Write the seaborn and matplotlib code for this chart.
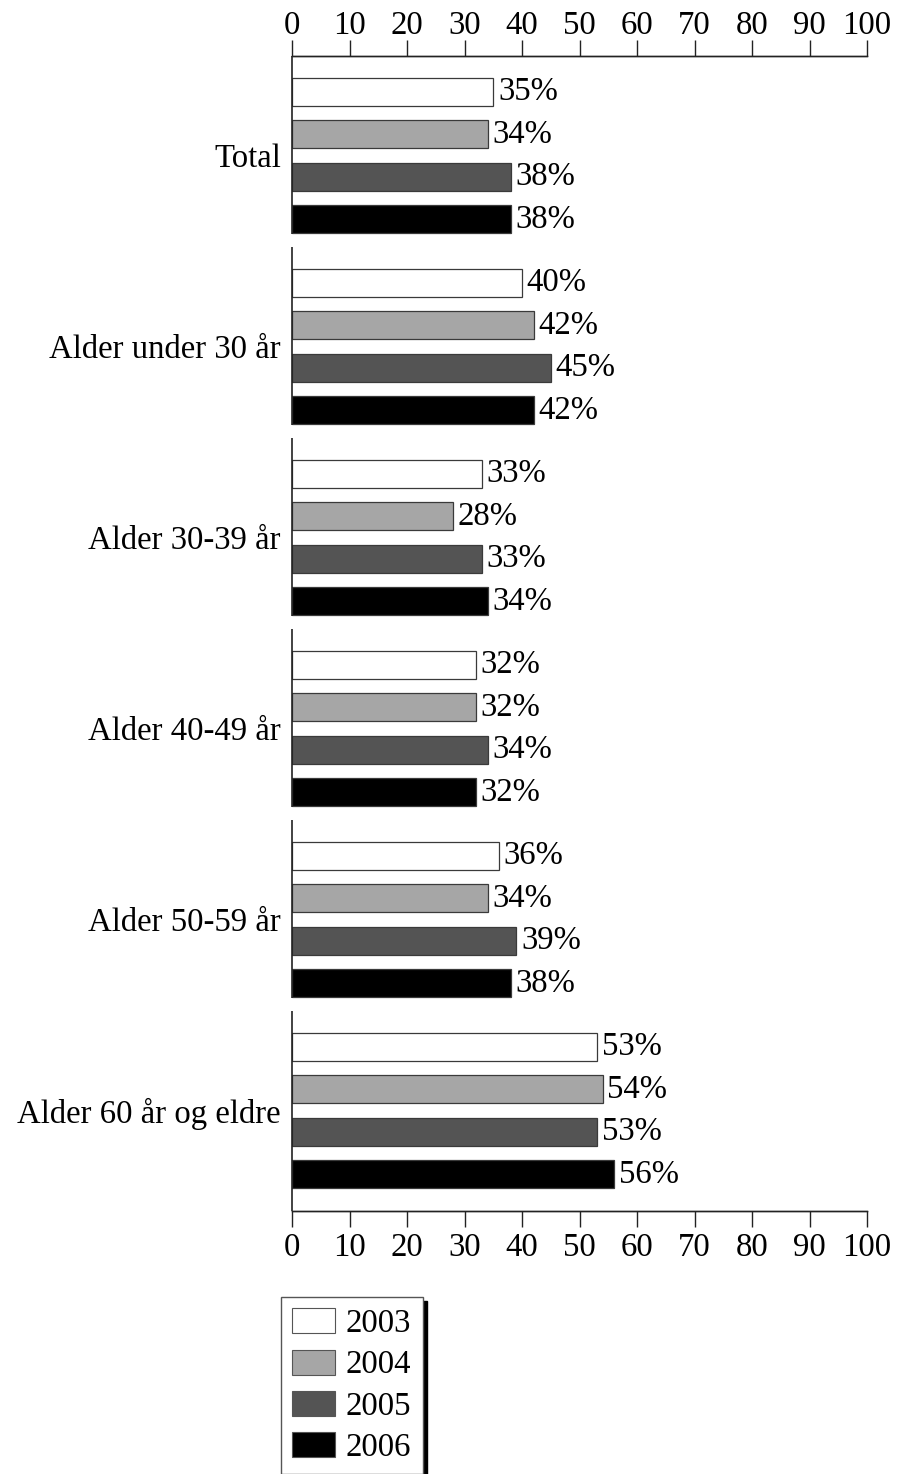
import matplotlib
matplotlib.use("Agg")
import matplotlib.pyplot as plt
import seaborn as sns
import pandas as pd
import numpy as np

# Share of respondents (%) per age group and survey year
groups = ["Total", "Alder under 30 år", "Alder 30-39 år", "Alder 40-49 år",
          "Alder 50-59 år", "Alder 60 år og eldre"]
years = ["2003", "2004", "2005", "2006"]
v2003 = [35, 40, 33, 32, 36, 53]
v2004 = [34, 42, 28, 32, 34, 54]
v2005 = [38, 45, 33, 34, 39, 53]
v2006 = [38, 42, 34, 32, 38, 56]
ticks = [0, 10, 20, 30, 40, 50, 60, 70, 80, 90, 100]
colors = ["#ffffff", "#a6a6a6", "#545454", "#000000"]

rows = []
for yr, vals in zip(years, [v2003, v2004, v2005, v2006]):
    for g, v in zip(groups, vals):
        rows.append({"group": g, "year": yr, "value": v})
df = pd.DataFrame(rows)

sns.set_theme(style="white")
plt.rcParams["font.family"] = ["Liberation Serif", "DejaVu Serif"]
FS = 23.6
AXC = "#222222"

fig = plt.figure(figsize=(9.02, 14.74), dpi=100)
ax = fig.add_axes([292 / 902, 1 - 1211 / 1474, (867 - 292) / 902, (1211 - 56) / 1474])

sns.barplot(data=df, y="group", x="value", hue="year", order=groups,
            hue_order=years, palette=colors, orient="h", width=0.89, gap=0.34,
            edgecolor="#3a3a3a", linewidth=0.9, errorbar=None, ax=ax,
            legend=True)

for cont, vals in zip(ax.containers, [v2003, v2004, v2005, v2006]):
    ax.bar_label(cont, labels=[f"{v}%" for v in vals], padding=3.5,
                 fontsize=FS, color="black")

ax.set_xlim(0, 100)
ax.set_ylim(len(groups) - 0.474, -0.521)
ax.set_xlabel("")
ax.set_ylabel("")
ax.set_xticks(ticks)
ax.set_xticklabels([str(t) for t in ticks])
ax.tick_params(axis="x", top=False, bottom=True, labelbottom=True,
               direction="out", length=11.5, width=1.0, color=AXC, pad=4,
               labelsize=FS, labelcolor="black")
ax.tick_params(axis="y", length=0, pad=8, labelsize=FS, labelcolor="black")

# Matching scale along the top edge
top = ax.twiny()
top.set_xlim(ax.get_xlim())
top.set_xticks(ticks)
top.set_xticklabels([str(t) for t in ticks])
top.tick_params(axis="x", direction="out", length=11.5, width=1.0, color=AXC,
                pad=-1, labelsize=FS, labelcolor="black")

for a in (ax, top):
    for side in ["top", "bottom"]:
        a.spines[side].set_visible(True)
        a.spines[side].set_color(AXC)
        a.spines[side].set_linewidth(1.0)
    a.spines["left"].set_visible(False)
    a.spines["right"].set_visible(False)

# Left axis drawn as one segment per group
n = len(groups)
for i in range(n):
    y0 = i - 0.52
    y1 = i + 0.41 if i < n - 1 else n - 0.474
    ax.plot([0, 0], [y0, y1], color=AXC, lw=1.2, clip_on=False,
            solid_capstyle="butt", zorder=5)

# Legend below the chart
handles, labels = ax.get_legend_handles_labels()
ax.get_legend().remove()
leg = fig.legend(handles, labels, loc="upper left",
                 bbox_to_anchor=(281 / 902, 1 - 1297 / 1474),
                 bbox_transform=fig.transFigure, fontsize=FS, frameon=True,
                 fancybox=False, borderaxespad=0, borderpad=0.34,
                 handlelength=1.32, handleheight=0.8, handletextpad=0.32,
                 labelspacing=0.32, labelcolor="black",
                 shadow={"color": "black", "alpha": 1.0, "ox": 3, "oy": -3})
leg.get_frame().set_edgecolor("#555555")
leg.get_frame().set_linewidth(1.0)
for h in leg.legend_handles:
    h.set_edgecolor("#555555")
    h.set_linewidth(0.8)

fig.savefig("out.png", dpi=100)
